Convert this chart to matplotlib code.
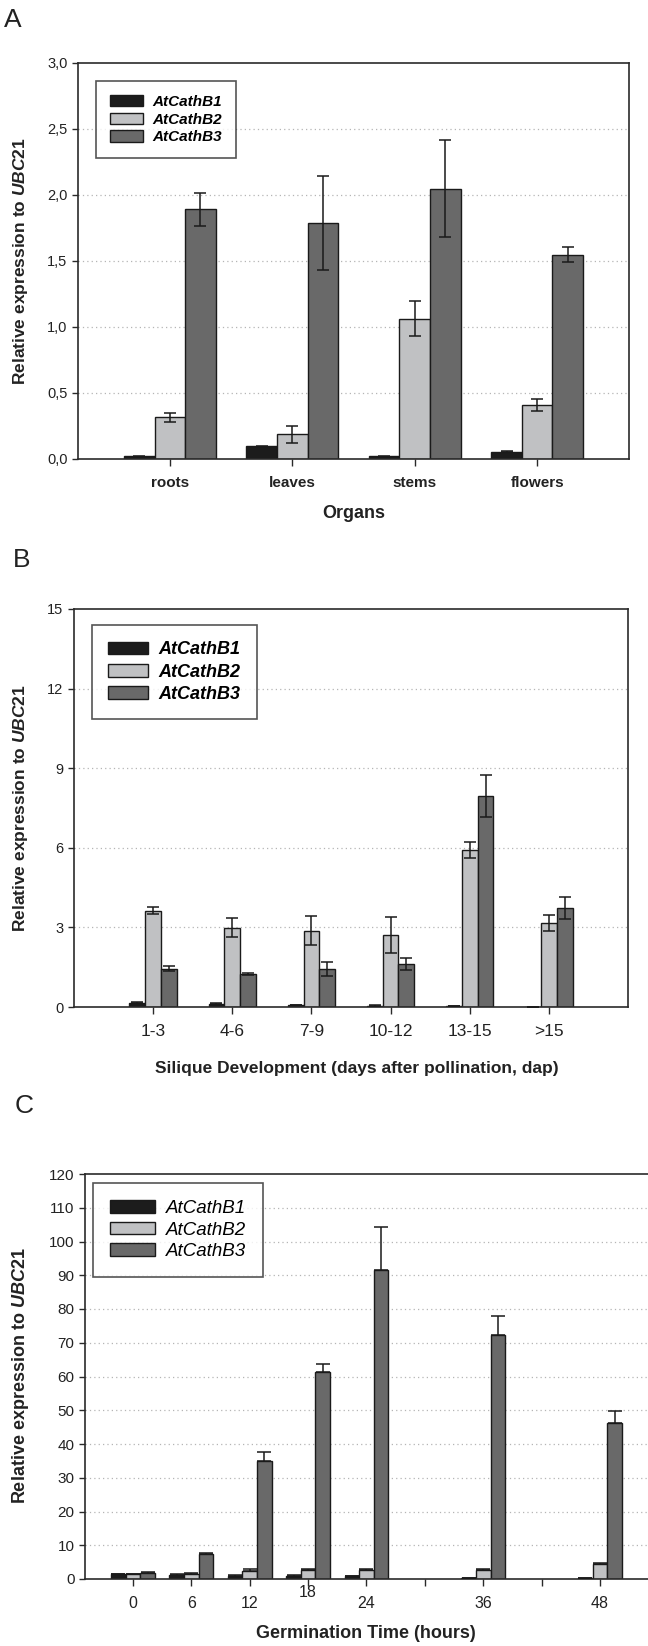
import matplotlib
matplotlib.use("Agg")
import matplotlib.pyplot as plt
import matplotlib.transforms as mtransforms
import numpy as np

plt.rcParams['font.family'] = ['Liberation Sans', 'DejaVu Sans']
plt.rcParams['mathtext.fontset'] = 'custom'
plt.rcParams['mathtext.it'] = 'Liberation Sans:italic:bold'
plt.rcParams['mathtext.rm'] = 'Liberation Sans:bold'

genes = ["AtCathB1", "AtCathB2", "AtCathB3"]

# Panel A: organs
organs = ["roots", "leaves", "stems", "flowers"]
a_b1 = [0.02, 0.095, 0.02, 0.054]
a_b2 = [0.317, 0.187, 1.064, 0.409]
a_b3 = [1.893, 1.785, 2.047, 1.549]
a_b1_err = [0.004, 0.004, 0.004, 0.004]
a_b2_err = [0.034, 0.063, 0.13, 0.046]
a_b3_err = [0.125, 0.356, 0.366, 0.058]

# Panel B: silique development
siliques = ["1-3", "4-6", "7-9", "10-12", "13-15", ">15"]
b_b1 = [0.16, 0.12, 0.07, 0.05, 0.03, 0.0]
b_b2 = [3.63, 2.99, 2.88, 2.72, 5.92, 3.16]
b_b3 = [1.44, 1.24, 1.44, 1.61, 7.96, 3.73]
b_b1_err = [0.02, 0.02, 0.01, 0.01, 0.0, 0.0]
b_b2_err = [0.14, 0.35, 0.56, 0.67, 0.29, 0.29]
b_b3_err = [0.10, 0.05, 0.27, 0.23, 0.79, 0.42]

# Panel C: germination time
hours = [0, 6, 12, 18, 24, 36, 48]
c_b1 = [1.5, 1.3, 1.0, 1.0, 0.8, 0.2, 0.2]
c_b2 = [1.4, 1.6, 2.4, 2.8, 2.8, 2.8, 4.4]
c_b3 = [1.8, 7.5, 35.1, 61.4, 91.6, 72.3, 46.3]
c_b1_err = [0.1, 0.1, 0.1, 0.1, 0.1, 0.05, 0.05]
c_b2_err = [0.1, 0.2, 0.6, 0.3, 0.3, 0.3, 0.2]
c_b3_err = [0.2, 0.3, 2.4, 2.4, 12.8, 5.5, 3.5]

colors = ["#1c1c1c", "#c0c1c3", "#696969"]
W, H = 648, 1646
DPI = 100
fig = plt.figure(figsize=(W / DPI, H / DPI), dpi=DPI)


def px_axes(left, right, top, bottom):
    return fig.add_axes([left / W, 1 - bottom / H, (right - left) / W, (bottom - top) / H])


def style_axes(ax, ymax, ystep, yfmt, ylsize):
    for s in ax.spines.values():
        s.set_linewidth(1.2)
        s.set_color("#2a2a2a")
    ticks = np.arange(0, ymax + ystep / 2, ystep)
    ax.set_ylim(0, ymax)
    ax.set_yticks(ticks)
    ax.set_yticklabels([yfmt(t) for t in ticks], fontsize=ylsize, color="#222")
    for t in ticks[1:-1]:
        ax.axhline(t, color="#b5b5b5", lw=0.9, ls=(0, (1, 2.5)), zorder=0)
    ax.tick_params(axis='y', direction='out', length=4.5, width=1.0, color="#2a2a2a", pad=3)
    ax.tick_params(axis='x', direction='out', length=5, width=1.0, color="#2a2a2a")


def draw_group(ax, x, vals, errs, width, offsets, only_up=False, capsize=4.3):
    for k in range(3):
        xs = np.asarray(x) + offsets[k]
        ax.bar(xs, vals[k], width=width, color=colors[k], edgecolor="#1a1a1a",
               linewidth=1.0, zorder=2)
        e = np.asarray(errs[k])
        yerr = np.vstack([np.zeros_like(e), e]) if only_up else e
        ax.errorbar(xs, vals[k], yerr=yerr, fmt='none', ecolor="#1a1a1a",
                    elinewidth=1.1, capsize=capsize, capthick=1.1, zorder=3)


def add_legend(ax, bbox, fsize, fstyle, fweight, hl, hh, spacing):
    from matplotlib.patches import Patch
    handles = [Patch(facecolor=c, edgecolor="#1a1a1a", linewidth=1.0) for c in colors]
    leg = ax.legend(handles, genes, loc='upper left', bbox_to_anchor=bbox,
                    bbox_transform=fig.transFigure, frameon=True, fancybox=False,
                    handlelength=hl, handleheight=hh, labelspacing=spacing,
                    borderpad=0.9, handletextpad=0.6, borderaxespad=0,
                    prop={'size': fsize, 'style': fstyle, 'weight': fweight,
                          'family': 'Liberation Sans'})
    leg.get_frame().set_edgecolor("#2a2a2a")
    leg.get_frame().set_linewidth(1.2)
    leg.set_zorder(5)
    return leg


ylab = r"Relative expression to $\mathit{UBC21}$"

# ---------------- Panel A ----------------
axA = px_axes(78, 629, 63, 459)
xa = np.arange(len(organs))
draw_group(axA, xa, [a_b1, a_b2, a_b3], [a_b1_err, a_b2_err, a_b3_err],
           0.25, [-0.25, 0, 0.25], capsize=4.2)
axA.set_xlim(-0.75, 3.75)
style_axes(axA, 3.0, 0.5, lambda t: f"{t:.1f}".replace('.', ','), 10.5)
axA.set_xticks(xa)
axA.set_xticklabels(organs, fontsize=11, fontweight='bold', color="#222")
axA.tick_params(axis='x', pad=7)
add_legend(axA, (96 / W, 1 - 81 / H), 11, 'italic', 'bold', 2.2, 0.75, 0.25)
fig.text(354 / W, 1 - 514 / H, "Organs", fontsize=13, fontweight='bold',
         ha='center', va='center', color="#222")
fig.text(21 / W, 1 - 261 / H, ylab, fontsize=12.5, fontweight='bold', rotation=90,
         ha='center', va='center', color="#222")
fig.text(4 / W, 1 - 20 / H, "A", fontsize=19, ha='left', va='center', color="#222")

# ---------------- Panel B ----------------
axB = px_axes(74, 628, 609, 1007)
xb = np.arange(len(siliques))
draw_group(axB, xb, [b_b1, b_b2, b_b3], [b_b1_err, b_b2_err, b_b3_err],
           0.2, [-0.2, 0, 0.2], capsize=4.6)
axB.set_xlim(-1, 6)
style_axes(axB, 15, 3, lambda t: f"{t:.0f}", 10.5)
axB.set_xticks(xb)
axB.set_xticklabels(siliques, fontsize=12.5, color="#222")
axB.tick_params(axis='x', pad=7)
add_legend(axB, (92 / W, 1 - 625 / H), 13, 'italic', 'bold', 2.2, 0.7, 0.3)
fig.text(357 / W, 1 - 1069 / H, "Silique Development (days after pollination, dap)",
         fontsize=12.5, fontweight='bold', ha='center', va='center', color="#222")
fig.text(21 / W, 1 - 808 / H, ylab, fontsize=12.5, fontweight='bold', rotation=90,
         ha='center', va='center', color="#222")
fig.text(13 / W, 1 - 560 / H, "B", fontsize=19, ha='left', va='center', color="#222")

# ---------------- Panel C ----------------
axC = px_axes(85, 655, 1174, 1579)
xc = np.array(hours, dtype=float)
draw_group(axC, xc, [c_b1, c_b2, c_b3], [c_b1_err, c_b2_err, c_b3_err],
           1.5, [-1.5, 0, 1.5], only_up=True, capsize=4.8)
axC.set_xlim(-4.93, 53.65)
style_axes(axC, 120, 10, lambda t: f"{t:.0f}", 11)
axC.set_xticks(np.arange(0, 49, 6))
axC.set_xticklabels(["" if h not in hours else str(h) for h in range(0, 49, 6)],
                    fontsize=11.5, color="#222")
axC.tick_params(axis='x', pad=7)
# the "18" label sits slightly higher in the original figure
for lbl in axC.get_xticklabels():
    if lbl.get_text() == "18":
        lbl.set_transform(lbl.get_transform() +
                          mtransforms.ScaledTranslation(0, 8 / 72, fig.dpi_scale_trans))
add_legend(axC, (93 / W, 1 - 1183 / H), 13.5, 'italic', 'normal', 2.4, 0.65, 0.25)
fig.text(366 / W, 1 - 1633 / H, "Germination Time (hours)", fontsize=13,
         fontweight='bold', ha='center', va='center', color="#222")
fig.text(21 / W, 1 - 1376 / H, ylab, fontsize=13, fontweight='bold', rotation=90,
         ha='center', va='center', color="#222")
fig.text(15 / W, 1 - 1106 / H, "C", fontsize=19, ha='left', va='center', color="#222")

fig.savefig("out.png", dpi=DPI)
